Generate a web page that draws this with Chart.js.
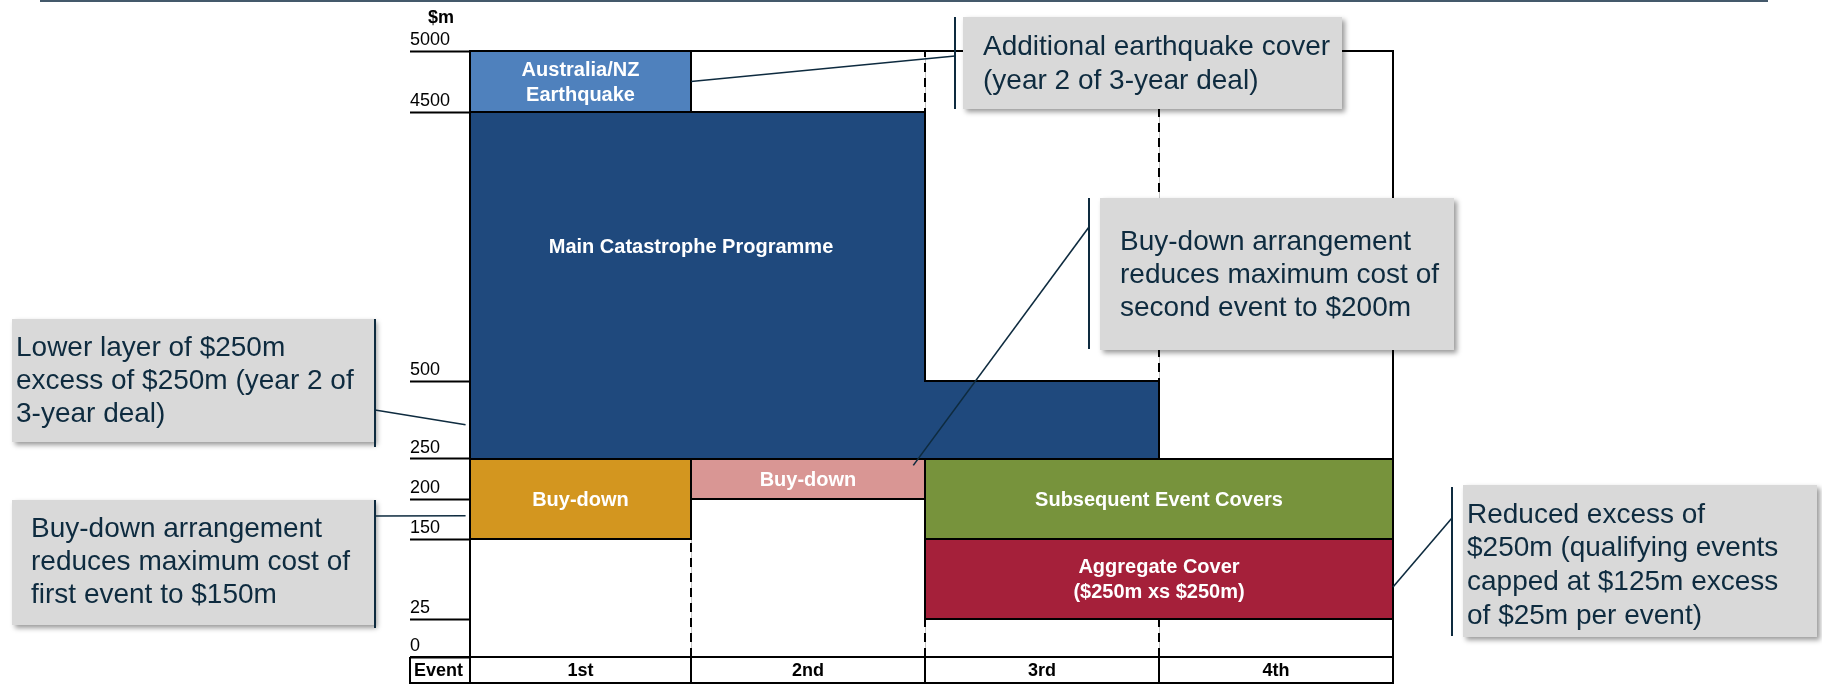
<!DOCTYPE html>
<html lang="en">
<head>
<meta charset="UTF-8">
<title>Catastrophe reinsurance programme</title>
<script src="https://cdn.jsdelivr.net/npm/chart.js@4.4.0/dist/chart.umd.min.js"></script>
<style>
  html, body { margin: 0; padding: 0; background: #fff; }
  canvas { display: block; }
</style>
</head>
<body>
<canvas id="layers" width="1822" height="685"></canvas>
<script>
// loss events along the bottom, one column each
const events = ['1st', '2nd', '3rd', '4th'];
// $m levels marked on the left axis (axis is not to scale between them)
const levels = [0, 25, 150, 200, 250, 500, 4500, 5000];

// each cover: [from, to] in $m for every event, null where it does not respond
const quakeCover      = [[4500, 5000], null, null, null];
const mainProgramme   = [[250, 4500], [250, 4500], [250, 500], null];
const firstBuyDown    = [[150, 250], null, null, null];
const secondBuyDown   = [null, [200, 250], null, null];
const subsequentCover = [null, null, [150, 250], [150, 250]];
const aggregateCover  = [null, null, [25, 150], [25, 150]];

const layers = [
  { name: 'Australia/NZ\nEarthquake', cover: quakeCover, colour: '#4f81bd', labelAt: [0.5, 4750] },
  { name: 'Main Catastrophe Programme', cover: mainProgramme, colour: '#1f497d', labelAt: [1, 2500] },
  { name: 'Buy-down', cover: firstBuyDown, colour: '#d3961f', labelAt: [0.5, 200] },
  { name: 'Buy-down', cover: secondBuyDown, colour: '#d99694', labelAt: [1.5, 225] },
  { name: 'Subsequent Event Covers', cover: subsequentCover, colour: '#77933c', labelAt: [3, 200] },
  { name: 'Aggregate Cover\n($250m xs $250m)', cover: aggregateCover, colour: '#a5203a', labelAt: [3, 87.5] }
];

const FONT = "'Liberation Sans', Arial, sans-serif";
const INK = '#0e2b3f';

const callouts = [
  { text: ['Additional earthquake cover', '(year 2 of 3-year deal)'],
    box: [963, 17, 379, 92], barX: 955, barY: [17, 109], textX: 983, textY: 47, step: 34,
    from: [955, 56], to: [1, 4750] },
  { text: ['Buy-down arrangement', 'reduces maximum cost of', 'second event to $200m'],
    box: [1100, 198, 354, 152], barX: 1089, barY: [198, 349], textX: 1120, textY: 242, step: 33,
    from: [1089, 227], to: [1.95, 242] },
  { text: ['Lower layer of $250m', 'excess of $250m (year 2 of', '3-year deal)'],
    box: [12, 319, 362, 123], barX: 375, barY: [319, 447], textX: 16, textY: 348, step: 33,
    from: [375, 410], to: [-0.02, 360] },
  { text: ['Buy-down arrangement', 'reduces maximum cost of', 'first event to $150m'],
    box: [12, 500, 362, 125], barX: 375, barY: [500, 628], textX: 31, textY: 529, step: 33,
    from: [375, 516], to: [-0.02, 179] },
  { text: ['Reduced excess of', '$250m (qualifying events', 'capped at $125m excess', 'of $25m per event)'],
    box: [1463, 485, 354, 152], barX: 1452, barY: [487, 636], textX: 1467, textY: 515, step: 33.7,
    from: [1452, 518], to: [4, 75] }
];

// linear scale split into bands of chosen size between fixed stops
class BandScale extends Chart.LinearScale {
  determineDataLimits() {
    const stops = this.options.stops;
    this.min = stops[0];
    this.max = stops[stops.length - 1];
  }
  buildTicks() {
    return this.options.stops.map(value => ({ value }));
  }
  toFraction(value) {
    const stops = this.options.stops, bands = this.options.bands;
    const total = bands.reduce((a, b) => a + b, 0);
    let acc = 0;
    for (let i = 0; i < bands.length; i++) {
      const lo = stops[i], hi = stops[i + 1];
      if (value <= hi || i === bands.length - 1) {
        return (acc + bands[i] * (value - lo) / (hi - lo)) / total;
      }
      acc += bands[i];
    }
    return 0;
  }
  getPixelForValue(value) {
    return this.getPixelForDecimal(this.toFraction(value));
  }
  getValueForPixel(pixel) {
    const stops = this.options.stops, bands = this.options.bands;
    const total = bands.reduce((a, b) => a + b, 0);
    const pos = this.getDecimalForPixel(pixel) * total;
    let acc = 0;
    for (let i = 0; i < bands.length; i++) {
      if (pos <= acc + bands[i] || i === bands.length - 1) {
        return stops[i] + (pos - acc) / bands[i] * (stops[i + 1] - stops[i]);
      }
      acc += bands[i];
    }
    return stops[0];
  }
}
BandScale.id = 'band';
BandScale.defaults = {};
Chart.register(BandScale);

// closed outline of a cover, top edge left to right then bottom edge back
function outline(cover) {
  const upper = [], lower = [];
  cover.forEach((span, i) => {
    if (!span) return;
    upper.push({ x: i, y: span[1] }, { x: i + 1, y: span[1] });
    lower.unshift({ x: i + 1, y: span[0] }, { x: i, y: span[0] });
  });
  return upper.concat(lower, [upper[0]]);
}

const ceiling = levels[levels.length - 1];
const datasets = layers.map(l => ({
  data: outline(l.cover),
  backgroundColor: l.colour,
  borderColor: '#000',
  borderWidth: 2,
  borderJoinStyle: 'miter',
  borderCapStyle: 'square',
  fill: 'shape',
  pointRadius: 0,
  tension: 0
}));

// outer frame
datasets.push({
  data: [{ x: 0, y: 0 }, { x: events.length, y: 0 }, { x: events.length, y: ceiling }, { x: 0, y: ceiling }, { x: 0, y: 0 }],
  borderColor: '#000', borderWidth: 2, borderJoinStyle: 'miter', borderCapStyle: 'square',
  fill: false, pointRadius: 0
});

// dashed dividers between events, hidden wherever a cover sits on top
for (let i = 1; i < events.length; i++) {
  datasets.push({
    data: [{ x: i, y: 0 }, { x: i, y: ceiling }],
    borderColor: '#000', borderWidth: 2, borderDash: [9, 6],
    fill: false, pointRadius: 0
  });
}

const annotations = {
  id: 'annotations',
  afterDatasetsDraw(chart) {
    const { ctx, scales: { x, y } } = chart;
    ctx.save();
    ctx.fillStyle = '#fff';
    ctx.font = 'bold 20px ' + FONT;
    ctx.textAlign = 'center';
    ctx.textBaseline = 'middle';
    layers.forEach(l => {
      const lines = l.name.split('\n');
      const cx = x.getPixelForValue(l.labelAt[0]);
      const cy = y.getPixelForValue(l.labelAt[1]);
      lines.forEach((t, i) => ctx.fillText(t, cx, cy + 1 + (i - (lines.length - 1) / 2) * 25));
    });
    ctx.restore();
  },
  afterDraw(chart) {
    const { ctx, chartArea: area, scales: { x, y } } = chart;
    ctx.save();

    // rule across the top
    ctx.fillStyle = '#44596b';
    ctx.fillRect(40, 0, 1728, 2);

    // unit label
    ctx.fillStyle = '#000';
    ctx.font = 'bold 18px ' + FONT;
    ctx.textAlign = 'center';
    ctx.textBaseline = 'middle';
    ctx.fillText('$m', 441, 18);

    // event row under the plot
    const rowTop = area.bottom, rowBottom = area.bottom + 26;
    const edges = [y.left].concat(events.map((_, i) => x.getPixelForValue(i)), [x.getPixelForValue(events.length)]);
    ctx.strokeStyle = '#000';
    ctx.lineWidth = 2;
    ctx.beginPath();
    ctx.moveTo(edges[0], rowTop);
    ctx.lineTo(edges[edges.length - 1], rowTop);
    ctx.moveTo(edges[0], rowBottom);
    ctx.lineTo(edges[edges.length - 1], rowBottom);
    edges.forEach(e => { ctx.moveTo(e, rowTop); ctx.lineTo(e, rowBottom + 1); });
    ctx.stroke();
    ctx.font = 'bold 18px ' + FONT;
    ctx.textAlign = 'left';
    ctx.fillText('Event', edges[0] + 4, rowTop + 14);
    ctx.textAlign = 'center';
    events.forEach((e, i) => ctx.fillText(e, (edges[i + 1] + edges[i + 2]) / 2, rowTop + 14));

    // callout boxes with leader lines
    callouts.forEach(c => {
      const [bx, by, bw, bh] = c.box;
      ctx.save();
      ctx.shadowColor = 'rgba(0,0,0,0.4)';
      ctx.shadowBlur = 5;
      ctx.shadowOffsetX = 3;
      ctx.shadowOffsetY = 3;
      ctx.fillStyle = '#d9d9d9';
      ctx.fillRect(bx, by, bw, bh);
      ctx.restore();

      ctx.fillStyle = INK;
      ctx.font = '28px ' + FONT;
      ctx.textAlign = 'left';
      ctx.textBaseline = 'middle';
      c.text.forEach((t, i) => ctx.fillText(t, c.textX, c.textY + i * c.step));

      ctx.strokeStyle = INK;
      ctx.lineWidth = 2;
      ctx.beginPath();
      ctx.moveTo(c.barX, c.barY[0]);
      ctx.lineTo(c.barX, c.barY[1]);
      ctx.stroke();
      ctx.lineWidth = 1.6;
      ctx.beginPath();
      ctx.moveTo(c.from[0], c.from[1]);
      ctx.lineTo(x.getPixelForValue(c.to[0]), y.getPixelForValue(c.to[1]));
      ctx.stroke();
    });
    ctx.restore();
  }
};

new Chart(document.getElementById('layers'), {
  type: 'line',
  data: { datasets },
  options: {
    responsive: false,
    animation: false,
    events: [],
    layout: { padding: { left: 410, right: 429, top: 51, bottom: 28 } },
    plugins: { legend: { display: false }, tooltip: { enabled: false } },
    scales: {
      x: {
        type: 'band',
        stops: [0, 1, 2, 3, 4],
        bands: [221, 234, 234, 234],
        grid: { color: '#c4c4c4', lineWidth: 1, drawTicks: false },
        border: { display: false },
        ticks: { display: false }
      },
      y: {
        type: 'band',
        stops: levels,
        bands: [38, 80, 40, 40, 78, 269, 61],
        afterFit(scale) { scale.width = 60; },
        grid: { drawOnChartArea: false, drawTicks: true, tickLength: 60, tickColor: '#000', tickWidth: 2 },
        border: { display: false },
        ticks: {
          autoSkip: false,
          crossAlign: 'far',
          labelOffset: -11,
          color: '#000',
          font: { size: 18, family: FONT },
          callback: v => String(v)
        }
      }
    }
  },
  plugins: [annotations]
});
</script>
</body>
</html>
